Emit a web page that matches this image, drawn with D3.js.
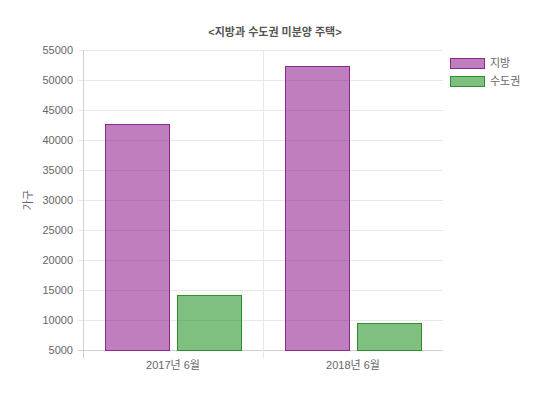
<!DOCTYPE html>
<html>
<head>
<meta charset="utf-8">
<script src="https://cdn.jsdelivr.net/npm/d3@7"></script>
<style>
  body { margin: 0; background: #fff; }
  text { font-family: "Liberation Sans", "Noto Sans CJK KR", sans-serif; }
</style>
</head>
<body>
<div id="chart"></div>
<script>
const categories = ['2017년 6월', '2018년 6월'];
const seriesNames = ['지방', '수도권'];
const jibang = [42700, 52400];
const sudogwon = [14200, 9500];
const yTicks = [5000, 10000, 15000, 20000, 25000, 30000, 35000, 40000, 45000, 50000, 55000];

const width = 550;
const height = 395;
const margin = { top: 50, right: 107, bottom: 45, left: 83 };

const fills = ['rgba(128,0,128,0.5)', 'rgba(0,128,0,0.5)'];
const strokes = ['#8b2a8b', '#2f8f2f'];

const svg = d3.select('#chart')
    .append('svg')
    .attr('width', width)
    .attr('height', height);

const x = d3.scaleBand()
    .domain(categories)
    .range([margin.left, width - margin.right]);

const xInner = d3.scaleBand()
    .domain(seriesNames)
    .range([0, x.bandwidth()])
    .paddingInner(0.111)
    .paddingOuter(0.305);

const y = d3.scaleLinear()
    .domain([5000, 55000])
    .range([height - margin.bottom, margin.top]);

// horizontal grid lines with small tick marks
svg.append('g')
    .selectAll('line')
    .data(yTicks)
    .enter()
    .append('line')
    .attr('x1', margin.left - 5)
    .attr('x2', width - margin.right)
    .attr('y1', d => Math.round(y(d)) + 0.5)
    .attr('y2', d => Math.round(y(d)) + 0.5)
    .attr('stroke', d => d === 5000 ? '#d0d0d0' : '#e8e8e8');

// vertical grid lines (band edges)
const xEdges = [margin.left, x(categories[1])];
svg.append('g')
    .selectAll('line')
    .data(xEdges)
    .enter()
    .append('line')
    .attr('x1', d => Math.round(d) + 0.5)
    .attr('x2', d => Math.round(d) + 0.5)
    .attr('y1', margin.top)
    .attr('y2', height - margin.bottom + 8)
    .attr('stroke', (d, i) => i === 0 ? '#d0d0d0' : '#e8e8e8');

// y tick labels
svg.append('g')
    .selectAll('text')
    .data(yTicks)
    .enter()
    .append('text')
    .attr('x', margin.left - 10)
    .attr('y', d => y(d))
    .attr('dy', '0.35em')
    .attr('text-anchor', 'end')
    .attr('font-size', 11)
    .attr('fill', '#666')
    .text(d => d);

// x tick labels
svg.append('g')
    .selectAll('text')
    .data(categories)
    .enter()
    .append('text')
    .attr('x', d => x(d) + x.bandwidth() / 2)
    .attr('y', height - margin.bottom + 15)
    .attr('dy', '0.35em')
    .attr('text-anchor', 'middle')
    .attr('font-size', 11)
    .attr('fill', '#666')
    .text(d => d);

// bars
const series = [jibang, sudogwon];
series.forEach((values, s) => {
    svg.append('g')
        .selectAll('rect')
        .data(values)
        .enter()
        .append('rect')
        .attr('x', (d, i) => Math.round(x(categories[i]) + xInner(seriesNames[s])) + 0.5)
        .attr('y', d => Math.round(y(d)) + 0.5)
        .attr('width', Math.round(xInner.bandwidth()))
        .attr('height', d => Math.round(y(5000)) - Math.round(y(d)))
        .attr('fill', fills[s])
        .attr('stroke', strokes[s])
        .attr('stroke-width', 1);
});

// title
svg.append('text')
    .attr('x', width / 2)
    .attr('y', 36)
    .attr('text-anchor', 'middle')
    .attr('font-size', 11)
    .attr('font-weight', 'bold')
    .attr('fill', '#555')
    .text('<지방과 수도권 미분양 주택>');

// y axis title
svg.append('text')
    .attr('transform', `translate(32, ${(margin.top + height - margin.bottom) / 2}) rotate(-90)`)
    .attr('text-anchor', 'middle')
    .attr('font-size', 11)
    .attr('fill', '#666')
    .text('가구');

// legend
const legend = svg.append('g')
    .selectAll('g')
    .data(seriesNames)
    .enter()
    .append('g')
    .attr('transform', (d, i) => `translate(450, ${58 + i * 18})`);

legend.append('rect')
    .attr('x', 0.5)
    .attr('y', 0.5)
    .attr('width', 34)
    .attr('height', 10)
    .attr('fill', (d, i) => fills[i])
    .attr('stroke', (d, i) => strokes[i]);

legend.append('text')
    .attr('x', 40)
    .attr('y', 5.5)
    .attr('dy', '0.35em')
    .attr('font-size', 11)
    .attr('fill', '#666')
    .text(d => d);
</script>
</body>
</html>
